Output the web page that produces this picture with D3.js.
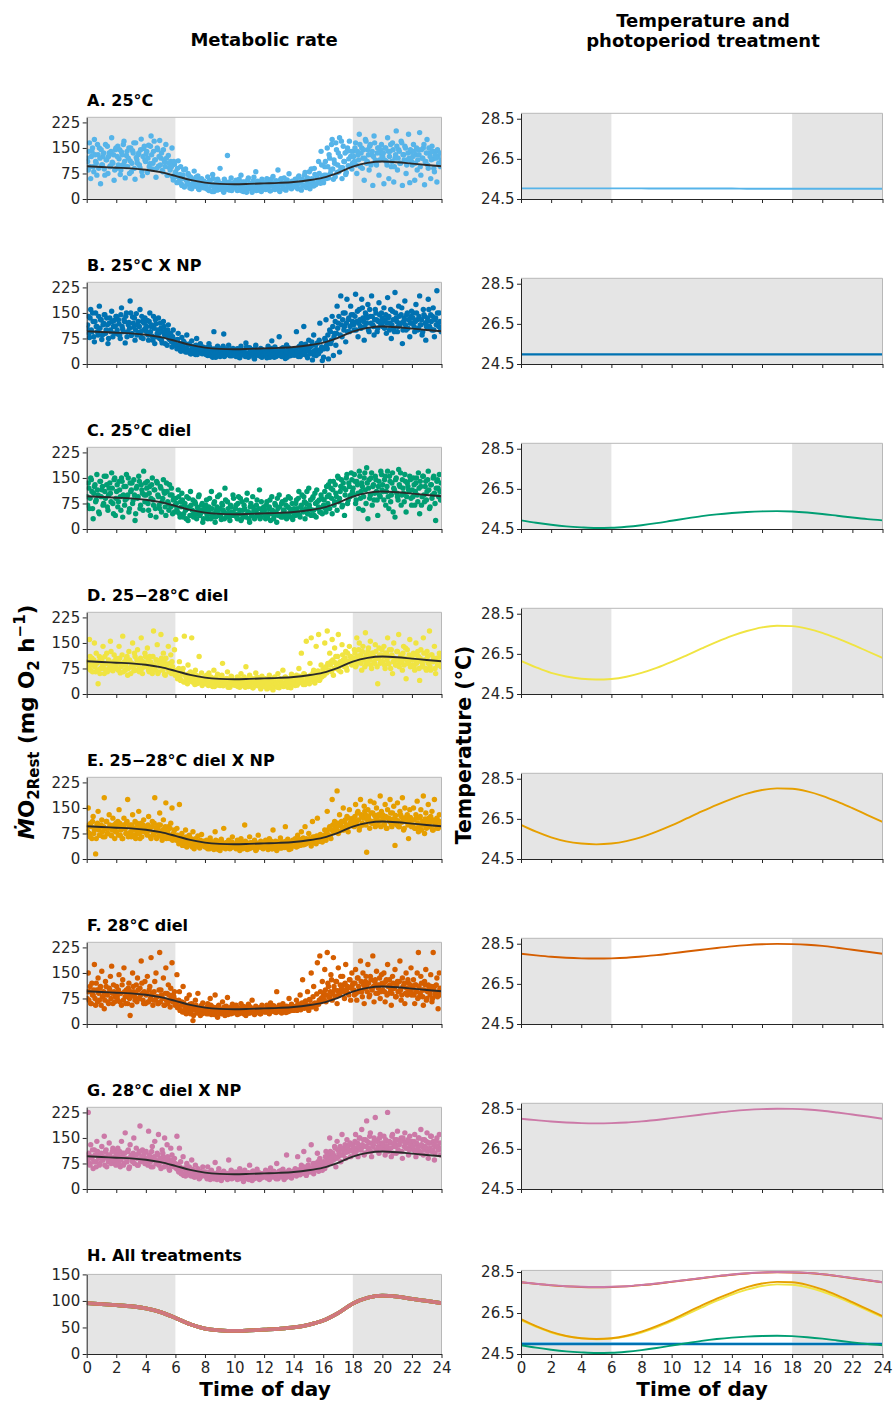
<!DOCTYPE html>
<html><head><meta charset="utf-8">
<script src="https://cdn.jsdelivr.net/npm/d3@7"></script>
<style>
body{margin:0;background:#fff}
svg{display:block}
text{font-family:"DejaVu Sans",sans-serif}
</style>
</head><body>
<svg id="chart" width="895" height="1405"></svg>
<script>
// ---------- DATA ----------
// Resting metabolic rate readings (mg O2 h^-1); two fish per treatment, one reading each every 5 min over 0-24 h
const mo2_A = [
120,85,165,60,140,95,175,110,70,130,150,45,100,125,88,160,115,75,135,98,180,105,55,145,
90,155,118,72,138,100,170,62,128,95,150,112,80,142,165,58,122,105,135,92,176,68,148,115,
132,78,158,104,185,88,140,115,64,150,96,172,120,84,145,108,160,70,128,92,110,150,56,102,
80,48,112,62,95,40,70,35,88,55,75,42,65,30,58,82,38,50,68,28,45,60,35,52,
42,30,65,25,50,38,72,22,45,33,58,28,90,40,35,20,52,30,128,44,26,62,36,48,
38,55,25,46,30,70,34,22,50,40,28,62,36,45,20,54,32,80,42,26,48,35,58,30,
44,28,60,35,52,24,40,66,30,48,38,85,26,55,42,32,62,28,46,36,74,40,30,50,
36,58,42,30,68,48,26,55,40,78,34,62,45,30,88,52,38,72,44,60,110,50,140,66,
48,95,70,150,62,120,85,175,58,105,165,78,135,180,92,60,155,110,72,140,98,170,125,88,
140,110,165,75,130,190,95,150,120,55,175,105,145,85,160,130,40,185,115,100,150,70,135,160,
125,45,150,110,180,60,140,95,165,50,120,200,85,145,105,170,40,130,155,75,115,190,48,138,
100,160,55,130,85,145,195,70,120,150,42,110,175,90,135,60,155,118,80,140,50,125,100,95];
const mo2_A2 = [
110,140,95,125,150,80,130,105,160,90,120,145,100,135,70,115,155,125,95,140,108,130,85,150,
125,100,145,85,130,160,110,95,140,120,75,150,105,135,90,165,115,130,100,145,80,125,155,110,
140,120,95,155,130,105,170,115,90,145,125,100,135,80,115,95,120,70,105,85,95,65,110,75,
65,90,50,72,45,60,85,38,55,48,70,32,60,45,52,38,64,42,30,55,40,48,33,44,
35,48,28,55,40,22,60,32,44,26,52,38,30,46,24,58,34,42,28,50,36,25,45,38,
32,44,26,58,38,24,50,34,42,20,56,30,46,36,28,64,40,25,52,34,44,22,48,36,
36,50,30,44,24,58,38,46,28,54,34,42,22,60,40,30,48,26,56,36,44,32,52,38,
42,56,34,64,46,30,58,40,70,36,52,44,80,38,60,48,90,42,66,54,75,46,100,58,
70,110,60,95,130,75,160,88,115,65,145,100,80,125,170,92,110,135,78,150,118,95,140,105,
125,150,100,140,115,160,135,90,145,120,170,110,130,155,100,140,125,165,105,135,150,115,145,125,
135,115,150,100,140,125,160,110,145,95,130,155,120,140,105,165,130,115,150,100,135,120,145,110,
125,140,105,150,115,130,95,145,120,160,110,135,100,150,125,115,140,90,130,120,145,105,135,115];
const mo2_B = [
105,140,78,160,95,125,65,150,110,85,170,130,72,115,145,90,135,60,120,100,155,80,128,112,
140,88,118,75,165,102,130,62,150,95,122,185,84,138,108,70,148,115,92,160,78,125,100,135,
96,128,70,150,110,82,140,60,118,90,135,75,105,62,125,85,98,55,115,72,88,50,100,65,
70,45,90,55,38,78,48,62,35,85,42,58,30,68,40,52,28,75,45,36,60,32,50,40,
35,48,25,60,30,42,20,95,38,28,52,32,22,45,36,88,26,40,30,55,24,42,34,28,
30,22,45,35,18,52,28,40,25,62,32,20,48,36,26,42,15,55,30,38,24,46,20,34,
28,40,18,52,32,24,68,36,20,44,30,26,80,38,22,48,34,16,56,28,42,24,36,30,
40,26,95,32,50,22,60,36,110,28,45,18,70,34,52,12,85,40,25,62,30,120,44,10,
20,75,130,45,15,100,60,140,25,90,55,170,120,35,200,80,150,110,65,190,130,95,170,115,
145,100,205,125,80,160,110,190,135,70,150,120,175,95,140,200,115,85,160,130,105,180,125,150,
110,165,130,90,195,140,120,75,155,105,210,135,95,170,115,145,60,125,185,100,150,130,80,140,
120,150,95,175,130,105,200,115,85,160,140,70,125,190,110,145,100,165,80,135,215,120,150,105];
const mo2_B2 = [
115,90,135,100,150,80,125,110,95,140,105,130,85,120,145,100,115,75,135,95,125,110,90,140,
100,130,85,145,110,95,125,140,80,115,105,150,90,120,135,100,85,125,110,95,140,75,120,105,
110,85,125,95,115,70,105,130,80,100,90,120,70,95,110,60,85,100,75,90,65,80,55,70,
55,72,45,60,38,52,66,42,48,35,58,40,30,50,44,36,55,28,46,38,42,30,48,34,
28,40,32,50,24,36,44,30,20,48,34,26,40,30,52,22,36,44,28,34,40,24,46,32,
26,38,30,20,44,34,28,40,22,50,32,24,36,42,28,18,46,34,26,38,30,22,42,28,
34,24,42,30,20,46,36,28,50,22,38,32,26,44,30,40,24,36,20,48,32,28,40,26,
30,44,36,22,52,38,28,46,34,58,24,40,48,30,65,36,26,55,42,32,70,38,50,45,
45,70,55,85,60,95,70,110,80,125,90,105,140,85,115,130,100,150,120,95,135,110,145,125,
115,140,100,155,120,130,105,165,125,110,145,135,100,160,120,140,110,130,150,95,125,145,115,135,
125,105,145,120,135,100,160,115,130,95,150,125,110,140,120,165,100,135,115,145,105,130,120,155,
135,110,125,150,100,140,115,130,95,145,120,110,135,160,105,125,140,100,130,115,150,110,125,95];
const mo2_C = [
95,135,60,150,110,30,125,80,160,100,45,140,115,70,155,90,130,55,120,105,165,75,145,40,
110,65,140,95,150,35,125,85,160,100,50,135,115,75,145,25,120,90,155,60,130,105,170,80,
100,140,55,125,90,150,70,115,35,135,95,60,120,80,145,105,40,110,75,130,65,100,85,50,
90,60,115,45,80,105,35,70,55,95,25,65,110,40,85,50,75,30,60,100,45,70,20,55,
50,85,30,65,45,110,35,75,20,55,95,40,60,28,70,50,120,35,80,45,25,65,40,90,
45,70,30,95,55,25,80,40,60,35,105,50,20,75,45,65,30,55,85,40,115,35,60,48,
55,30,80,45,65,25,95,50,38,70,20,60,100,42,75,35,55,85,30,65,45,90,52,28,
60,40,85,50,110,35,70,55,95,30,75,45,120,60,40,90,55,105,35,80,65,50,100,45,
70,110,50,95,130,60,120,45,140,80,105,55,150,90,125,65,135,40,115,160,85,125,100,145,
120,160,75,140,105,170,90,135,55,150,115,180,30,145,100,165,125,85,155,110,40,140,95,160,
130,85,155,110,170,60,140,100,165,120,35,150,95,175,125,70,145,105,160,50,135,115,155,90,
115,150,70,135,100,165,45,125,95,155,80,140,110,170,60,130,90,150,105,25,140,120,160,85];
const mo2_C2 = [
70,120,90,145,60,105,130,85,115,50,140,95,125,75,110,155,65,100,135,80,120,45,150,90,
130,80,115,55,140,100,70,125,90,150,60,110,135,85,100,45,125,95,140,70,115,55,100,135,
120,75,105,40,130,85,115,60,140,100,70,125,50,90,110,65,135,80,55,100,120,45,90,70,
75,50,95,35,65,85,45,75,30,60,90,40,70,55,35,80,45,65,95,40,55,75,30,60,
70,40,55,90,30,60,45,80,35,65,50,100,40,75,55,30,85,45,60,35,70,50,100,40,
60,35,75,45,90,30,55,70,40,85,50,30,65,40,95,55,35,70,45,60,30,80,50,65,
40,70,35,60,85,45,55,30,75,50,90,40,65,35,80,55,45,70,40,95,60,35,75,50,
45,75,60,90,40,65,100,50,80,60,110,45,70,85,55,95,40,75,115,60,85,50,90,65,
85,60,125,75,100,140,90,115,70,130,95,155,80,110,145,70,120,100,150,75,135,95,165,110,
100,140,85,130,60,155,110,125,95,165,75,135,120,90,150,70,130,105,145,85,125,100,170,115,
110,145,70,125,95,155,80,135,50,115,145,105,85,130,165,100,120,80,140,95,125,110,145,70,
95,130,110,150,80,120,140,70,155,100,125,85,145,115,65,130,100,155,75,120,145,95,110,135];
const mo2_D = [
80,95,160,70,105,85,150,65,90,30,110,75,100,140,60,88,120,72,95,155,82,68,115,92,
75,100,140,62,90,170,85,70,105,55,125,95,80,150,68,110,88,130,72,98,165,60,92,120,
85,135,70,110,90,60,185,78,100,145,65,95,175,82,120,58,105,88,140,72,115,95,65,130,
160,70,50,95,40,60,75,170,35,55,85,45,65,165,38,58,70,30,52,110,42,62,35,48,
40,55,28,62,35,48,22,70,45,30,58,38,25,50,90,32,44,28,65,36,20,52,40,30,
35,25,50,42,20,60,30,45,28,80,38,22,55,32,46,18,40,62,26,48,34,15,52,38,
28,45,15,38,55,22,30,12,48,35,25,60,18,42,30,70,24,50,36,20,44,28,58,32,
40,25,55,30,75,45,120,35,60,28,155,50,38,90,165,45,70,32,140,58,175,42,85,52,
60,150,80,185,70,120,95,160,55,135,110,75,175,90,65,145,100,80,125,70,95,140,110,85,
105,130,80,165,95,150,115,70,140,100,180,88,125,110,155,75,120,95,145,105,30,135,90,115,
95,140,75,120,165,88,110,130,60,150,100,85,125,175,92,115,70,140,105,45,130,95,160,110,
85,120,70,150,95,110,40,130,80,165,100,75,125,90,185,70,115,95,140,60,105,85,120,90];
const mo2_D2 = [
95,75,110,85,65,100,80,120,70,95,60,105,85,75,110,90,65,100,80,125,70,95,85,105,
90,70,105,80,115,65,95,85,110,75,100,60,90,80,120,70,100,85,65,105,75,95,80,110,
80,100,65,95,75,110,85,70,100,60,90,80,105,70,95,55,85,75,65,90,60,80,70,55,
60,45,75,50,40,65,35,55,48,30,60,42,50,35,45,28,55,40,32,48,38,25,45,35,
30,45,25,38,50,28,40,22,48,35,26,42,30,55,24,38,32,46,20,40,28,50,34,26,
28,40,22,46,32,25,38,50,20,35,44,26,30,42,18,36,28,48,24,34,40,20,30,45,
22,36,28,44,18,32,40,25,50,30,20,38,45,26,34,22,48,30,40,26,36,18,44,30,
30,46,26,38,52,34,44,28,58,36,48,40,30,55,42,62,35,50,45,68,40,58,50,72,
55,78,62,90,70,85,65,100,75,92,80,110,70,95,85,115,90,105,78,120,95,110,88,100,
95,120,85,110,130,100,90,125,105,80,115,95,135,100,85,120,110,90,125,80,105,115,95,130,
110,85,120,100,90,130,75,115,95,105,85,125,100,80,110,95,120,85,135,100,90,115,80,105,
100,80,115,90,125,75,105,95,85,120,100,70,110,90,80,115,95,105,75,100,85,95,110,80];
const mo2_E = [
90,150,75,105,60,125,85,15,100,140,70,95,115,65,180,88,110,75,130,92,68,120,100,80,
80,110,145,70,95,60,120,88,105,175,75,100,65,130,85,110,72,95,140,60,105,82,115,90,
95,70,125,85,60,110,75,180,92,65,100,135,80,55,115,88,165,70,95,60,105,150,75,85,
65,90,55,160,48,75,40,62,85,35,58,70,45,52,80,30,60,42,68,38,55,72,45,50,
40,55,30,48,62,35,45,28,80,42,52,35,25,58,40,90,32,48,38,55,30,45,65,36,
42,30,55,38,25,60,45,35,100,50,28,42,65,32,48,38,55,25,45,70,35,52,40,30,
35,55,42,28,60,48,30,85,40,52,25,45,38,62,32,50,42,95,35,58,28,48,40,55,
45,60,35,70,50,40,80,55,42,95,60,48,75,52,38,110,58,65,45,120,55,70,62,50,
65,85,55,140,70,95,60,175,80,110,90,200,75,130,100,85,150,110,95,125,80,145,105,115,
120,95,160,110,140,85,175,125,100,155,130,20,145,115,170,105,135,165,95,150,125,110,185,140,
130,105,160,90,145,120,175,100,135,155,40,115,165,95,140,125,180,85,150,110,130,60,145,100,
115,150,90,130,170,80,120,145,100,185,75,135,110,160,95,125,140,85,175,105,120,90,130,100];
const mo2_E2 = [
80,100,65,95,110,75,90,60,105,85,70,100,80,95,65,110,75,90,100,70,85,95,60,105,
95,70,105,85,60,100,90,75,110,65,95,80,100,70,90,60,105,85,75,95,65,100,80,90,
75,100,85,65,95,70,105,80,60,90,75,100,65,85,70,95,60,80,70,90,65,55,75,60,
55,70,45,62,50,40,58,48,65,38,52,44,60,35,50,42,55,38,48,32,45,40,52,36,
35,48,42,30,52,38,45,32,55,40,28,46,36,50,34,42,30,48,38,44,32,50,36,42,
45,36,50,32,42,48,30,40,52,36,44,30,48,38,42,34,50,28,40,46,36,42,32,48,
40,48,34,44,38,52,30,46,40,36,50,42,32,48,38,44,34,52,40,36,46,30,42,38,
40,52,45,38,58,48,42,62,50,44,55,48,60,52,46,65,55,50,68,58,52,72,60,65,
70,60,80,72,90,65,85,100,78,95,88,105,80,98,110,92,85,115,100,95,120,105,110,98,
110,125,100,135,115,95,130,105,120,140,100,115,125,90,135,110,105,128,118,100,130,112,95,125,
115,100,125,90,120,110,135,95,118,105,128,100,112,95,130,108,120,90,115,125,100,110,122,95,
100,115,90,120,105,95,125,85,110,100,118,90,105,120,95,110,85,115,100,108,90,112,95,105];
const mo2_F = [
75,150,95,60,120,85,175,55,100,135,70,110,155,80,45,125,90,65,105,140,170,60,95,80,
110,70,145,90,55,130,165,80,100,60,120,25,85,150,95,70,115,135,75,105,185,90,60,125,
85,140,65,110,195,90,70,125,150,80,60,210,100,75,135,55,165,90,115,70,105,180,85,95,
70,145,50,95,40,65,110,35,55,75,45,85,30,60,10,50,70,38,90,45,25,55,62,40,
45,30,60,38,75,28,50,42,85,35,20,55,40,30,65,45,25,52,78,35,48,30,58,42,
38,55,28,45,35,60,42,30,50,25,40,58,32,45,70,38,28,52,40,35,48,30,55,42,
42,35,55,48,30,62,40,50,36,45,95,38,55,44,32,60,48,40,52,36,75,45,58,40,
50,42,70,55,45,85,60,130,48,65,55,95,40,70,150,52,110,62,45,180,58,200,75,125,
90,160,65,210,110,80,145,70,195,100,125,60,165,85,140,95,115,75,175,105,90,130,70,150,
120,85,160,70,135,100,185,95,150,60,125,110,175,80,140,105,200,65,130,155,90,115,75,145,
100,150,65,130,175,90,115,55,140,105,160,80,125,95,185,70,135,110,60,150,85,120,100,165,
90,130,60,115,150,210,80,140,100,55,125,160,75,115,95,145,65,210,110,85,135,45,150,90];
const mo2_F2 = [
95,70,110,60,85,100,75,120,65,90,105,55,80,95,70,110,85,60,100,75,90,115,65,85,
80,100,65,90,115,70,95,60,85,105,75,95,55,110,80,90,65,100,75,85,120,70,95,60,
90,65,100,75,85,55,95,70,80,60,100,65,85,75,55,90,70,60,85,50,75,65,80,55,
60,48,70,40,55,35,62,45,30,52,40,58,35,48,25,42,55,32,45,38,50,30,42,35,
38,50,30,45,55,35,42,28,48,36,52,32,44,38,30,50,36,42,28,46,34,40,32,48,
42,34,48,30,44,38,52,36,28,46,40,32,50,36,44,30,42,48,34,38,30,46,40,36,
36,46,40,32,50,44,38,54,42,34,48,40,36,52,44,38,46,34,42,50,38,44,48,40,
44,52,40,58,48,42,62,50,46,68,54,48,72,56,50,80,60,54,88,62,70,95,66,80,
72,100,85,120,78,95,130,88,110,82,125,98,90,115,105,140,95,120,100,110,85,130,105,115,
100,120,90,135,110,95,125,80,115,105,140,95,120,85,130,100,110,125,90,115,105,135,95,120,
115,95,125,85,110,130,100,90,120,105,80,115,95,125,100,85,110,120,90,105,130,95,115,85,
105,85,115,95,75,110,90,120,80,100,115,70,95,105,85,110,75,100,90,115,80,95,105,85];
const mo2_G = [
100,225,75,130,90,60,115,80,140,105,70,95,125,85,155,110,65,100,135,80,90,120,75,110,
85,120,95,65,140,105,75,165,90,110,60,130,100,80,150,95,120,70,105,185,88,115,95,75,
110,80,170,95,65,125,90,140,75,105,160,85,60,115,95,150,70,130,88,55,120,100,80,90,
70,155,55,120,80,45,95,60,38,75,50,65,42,85,55,35,70,48,60,30,52,45,65,40,
50,35,65,42,28,55,40,30,78,45,32,60,38,25,48,52,35,42,28,85,40,55,32,45,
38,50,28,45,60,35,42,22,55,40,30,48,70,36,25,52,44,32,58,38,28,46,40,35,
40,55,32,48,28,62,45,35,50,40,75,30,52,44,36,58,28,42,100,38,55,46,32,48,
45,60,38,95,52,42,70,48,110,55,40,65,85,50,130,58,45,75,60,105,52,90,68,55,
80,60,110,70,95,150,75,105,85,125,65,140,95,115,80,160,100,120,90,145,110,130,95,115,
130,105,160,120,95,150,115,175,125,100,145,200,110,135,165,95,125,150,210,115,140,105,160,130,
120,155,100,140,225,115,135,95,160,125,145,105,170,130,110,150,90,140,165,120,135,100,155,125,
140,115,160,95,130,150,110,175,125,100,145,120,165,90,135,155,110,140,85,125,150,115,160,100];
const mo2_G2 = [
85,105,70,95,115,80,100,65,110,90,75,105,85,95,70,115,90,80,100,75,110,85,95,70,
100,75,110,85,95,70,105,90,80,115,65,95,85,105,75,100,90,70,110,80,95,85,105,75,
90,70,100,80,110,65,95,85,75,100,70,90,80,105,65,85,75,95,60,80,70,85,65,75,
60,72,50,65,45,58,40,62,48,55,42,50,38,58,45,35,52,40,48,32,45,38,50,42,
42,30,48,36,52,40,32,46,38,28,50,34,44,30,40,48,36,32,46,38,42,30,50,36,
34,46,40,30,50,36,44,32,48,38,42,28,46,36,52,30,40,44,34,48,38,32,42,46,
44,36,50,40,34,48,38,52,42,30,46,40,36,54,44,38,48,34,50,42,36,46,40,52,
48,42,56,50,44,60,52,46,65,54,48,70,58,52,62,75,56,68,60,80,66,72,78,70,
75,95,82,100,88,110,92,105,98,120,90,115,105,125,100,118,110,130,108,122,115,135,112,128,
120,140,110,135,125,150,115,130,145,105,125,140,120,155,110,135,130,145,115,140,125,150,120,135,
130,115,145,125,110,140,120,155,105,135,125,145,115,130,140,110,150,125,135,120,145,115,130,140,
125,140,110,135,120,150,105,130,145,115,125,140,110,135,120,155,115,130,105,140,125,115,135,120];

// Fitted (smoothed) metabolic rate, hourly
const fitHours = [0,1,2,3,4,5,6,7,8,9,10,11,12,13,14,15,16,17,18,19,20,21,22,23,24];
const fitMO2 = [96,94,92,90,86,79,68,56,48,44.5,43.5,44.5,46,47.5,50,55,63,77,95,106,110,108,104,100,96];

// Water temperature treatments (°C), hourly
const temp_A = [25.03,25.03,25.03,25.03,25.03,25.03,25.03,25.03,25.03,25.02,25.02,25.02,25.02,25.02,25.02,25.01,25.01,25.01,25.01,25.01,25.01,25.01,25.01,25.01,25.01];
const temp_B = [24.98,24.98,24.98,24.98,24.98,24.98,24.98,24.98,24.98,24.98,24.98,24.98,24.98,24.98,24.98,24.98,24.98,24.98,24.98,24.98,24.98,24.98,24.98,24.98,24.98];
const temp_C = [24.93,24.81,24.71,24.63,24.58,24.55,24.56,24.61,24.69,24.79,24.91,25.03,25.14,25.23,25.3,25.35,25.38,25.39,25.37,25.32,25.25,25.16,25.07,24.99,24.93];
const temp_D = [26.15,25.83,25.55,25.37,25.26,25.22,25.25,25.36,25.55,25.8,26.1,26.43,26.77,27.1,27.4,27.64,27.82,27.9,27.88,27.76,27.55,27.27,26.96,26.63,26.3];
const temp_E = [26.2,25.86,25.58,25.38,25.27,25.23,25.27,25.39,25.59,25.86,26.17,26.52,26.87,27.2,27.5,27.76,27.94,28.02,28.0,27.87,27.65,27.36,27.03,26.69,26.35];
const temp_F = [28.0,27.92,27.85,27.8,27.77,27.76,27.77,27.8,27.86,27.93,28.02,28.11,28.2,28.29,28.37,28.43,28.47,28.49,28.48,28.45,28.39,28.3,28.2,28.1,28.0];
const temp_G = [28.0,27.93,27.86,27.81,27.78,27.77,27.78,27.81,27.87,27.94,28.03,28.12,28.21,28.3,28.38,28.44,28.48,28.5,28.49,28.46,28.4,28.31,28.21,28.11,28.0];

const panelTitles = ["A. 25°C","B. 25°C X NP","C. 25°C diel","D. 25−28°C diel","E. 25−28°C diel X NP","F. 28°C diel","G. 28°C diel X NP","H. All treatments"];
const treatmentColors = ["#56B4E9","#0072B2","#009E73","#F0E442","#E69F00","#D55E00","#CC79A7"];
const photoperiod = [true,false,true,true,false,true,false,true]; // false = no photoperiod (NP)
const lightsOn = 6, lightsOff = 18;
const mo2Ticks = [0,75,150,225];
const mo2TicksAll = [0,50,100,150];
const tempTicks = [24.5,26.5,28.5];
const hourTicks = [0,2,4,6,8,10,12,14,16,18,20,22,24];
const fishOffsetMin = [0, 2.5]; // minutes after each 5-min slot at which each fish was read

const mo2Series = [[mo2_A,mo2_A2],[mo2_B,mo2_B2],[mo2_C,mo2_C2],[mo2_D,mo2_D2],[mo2_E,mo2_E2],[mo2_F,mo2_F2],[mo2_G,mo2_G2]];
const tempSeries = [temp_A,temp_B,temp_C,temp_D,temp_E,temp_F,temp_G];

// ---------- DRAW ----------
const svg = d3.select("#chart");
const GRAY = "#e5e5e5";
const leftX = d3.scaleLinear().domain([0,24]).range([86.7,441.5]);
const rightX = d3.scaleLinear().domain([0,24]).range([521,882.5]);

svg.append("text").attr("x",264).attr("y",45.5).attr("text-anchor","middle")
  .attr("font-size",18).attr("font-weight","bold").text("Metabolic rate");
svg.append("text").attr("x",703).attr("y",26.7).attr("text-anchor","middle")
  .attr("font-size",18).attr("font-weight","bold").text("Temperature and");
svg.append("text").attr("x",703).attr("y",46.7).attr("text-anchor","middle")
  .attr("font-size",18).attr("font-weight","bold").text("photoperiod treatment");

function background(g, x, y, light){
  const [y0,y1] = y.range();
  const top = Math.min(y0,y1), h = Math.abs(y0-y1);
  if(light){
    g.append("rect").attr("x",x(0)).attr("y",top).attr("width",x(lightsOn)-x(0)).attr("height",h).attr("fill",GRAY);
    g.append("rect").attr("x",x(lightsOff)).attr("y",top).attr("width",x(24)-x(lightsOff)).attr("height",h).attr("fill",GRAY);
  } else {
    g.append("rect").attr("x",x(0)).attr("y",top).attr("width",x(24)-x(0)).attr("height",h).attr("fill",GRAY);
  }
}
function frame(g, x, y){
  const [y0,y1] = y.range();
  g.append("path").attr("d",`M${x(0)},${y1}H${x(24)}V${y0}`).attr("fill","none").attr("stroke","#b8b8b8").attr("stroke-width",1);
}
function axes(g, x, y, yTicks, yFmt, showX){
  const ya = g.append("g").attr("transform",`translate(${x(0)},0)`)
    .call(d3.axisLeft(y).tickValues(yTicks).tickFormat(yFmt).tickSize(4).tickSizeOuter(0).tickPadding(2.5));
  const [y0] = y.range();
  const xa = g.append("g").attr("transform",`translate(0,${y0})`)
    .call(d3.axisBottom(x).tickValues(hourTicks).tickFormat(showX? d3.format("d") : "").tickSize(4).tickSizeOuter(0).tickPadding(4.5));
  [ya,xa].forEach(a=>{
    a.selectAll("text").attr("font-size",15).attr("fill","#262626").attr("font-family","DejaVu Sans, sans-serif");
    a.selectAll("line").attr("stroke","#262626");
    a.select(".domain").attr("stroke","#262626");
  });
}

const lineGen = (x,y)=> d3.line().x((d,i)=>x(fitHours[i])).y(d=>y(d)).curve(d3.curveMonotoneX);

for(let i=0;i<8;i++){
  const bottom = 199 + 165*i;
  const isAll = i===7;
  const yL = d3.scaleLinear().domain(isAll?[0,150]:[0,240]).range([bottom, bottom-(isAll?79.6:81.7)]);
  const yR = d3.scaleLinear().domain(isAll?[24.5,28.58]:[24.5,28.77]).range([bottom, bottom-(isAll?83.6:85.7)]);

  svg.append("text").attr("x",87).attr("y",bottom-81.7-11).attr("font-size",16).attr("font-weight","bold").text(panelTitles[i]);

  // ---- left: metabolic rate ----
  const gl = svg.append("g");
  background(gl, leftX, yL, photoperiod[i]);
  const clipId = "clipL"+i;
  svg.append("clipPath").attr("id",clipId).append("rect")
    .attr("x",leftX(0)).attr("y",yL.range()[1]).attr("width",leftX(24)-leftX(0)).attr("height",yL.range()[0]-yL.range()[1]);
  const plot = gl.append("g").attr("clip-path",`url(#${clipId})`);
  if(!isAll){
    mo2Series[i].forEach((vals,f)=>{
      const slot = 24/vals.length;
      plot.append("g").selectAll("circle").data(vals).join("circle")
        .attr("cx",(d,k)=>leftX(k*slot + slot*fishOffsetMin[f]/5 + slot/4))
        .attr("cy",d=>yL(d)).attr("r",2.7).attr("fill",treatmentColors[i]);
    });
    plot.append("path").datum(fitMO2).attr("d",lineGen(leftX,yL)).attr("fill","none").attr("stroke","#2a2a2a").attr("stroke-width",1.9);
  } else {
    treatmentColors.forEach(c=>{
      plot.append("path").datum(fitMO2).attr("d",lineGen(leftX,yL)).attr("fill","none").attr("stroke",c).attr("stroke-width",3.8).attr("stroke-opacity",0.75);
    });
  }
  frame(gl, leftX, yL);
  axes(gl, leftX, yL, isAll?mo2TicksAll:mo2Ticks, d3.format("d"), isAll);

  // ---- right: temperature ----
  const gr = svg.append("g");
  background(gr, rightX, yR, photoperiod[i]);
  const clipR = "clipR"+i;
  svg.append("clipPath").attr("id",clipR).append("rect")
    .attr("x",rightX(0)).attr("y",yR.range()[1]-2).attr("width",rightX(24)-rightX(0)).attr("height",yR.range()[0]-yR.range()[1]+2);
  const pr = gr.append("g").attr("clip-path",`url(#${clipR})`);
  const series = isAll ? [0,1,2,3,4,5,6] : [i];
  series.forEach(s=>{
    pr.append("path").datum(tempSeries[s]).attr("d",lineGen(rightX,yR)).attr("fill","none")
      .attr("stroke",treatmentColors[s]).attr("stroke-width", s===1?2.4:1.9);
  });
  frame(gr, rightX, yR);
  axes(gr, rightX, yR, tempTicks, d3.format(".1f"), isAll);
}

svg.append("text").attr("x",265).attr("y",1396).attr("text-anchor","middle").attr("font-size",20).attr("font-weight","bold").text("Time of day");
svg.append("text").attr("x",702).attr("y",1396).attr("text-anchor","middle").attr("font-size",20).attr("font-weight","bold").text("Time of day");

const yt = svg.append("text").attr("transform","translate(34,722) rotate(-90)").attr("text-anchor","middle")
  .attr("font-size",21.5).attr("font-weight","bold");
yt.append("tspan").attr("font-style","italic").text("Ṁ");
yt.append("tspan").text("O");
yt.append("tspan").attr("font-size",15).attr("dy",5).text("2Rest");
yt.append("tspan").attr("dy",-5).text(" (mg O");
yt.append("tspan").attr("font-size",15).attr("dy",5).text("2");
yt.append("tspan").attr("dy",-5).text(" h");
yt.append("tspan").attr("font-size",15).attr("dy",-9).text("−1");
yt.append("tspan").attr("dy",9).text(")");

svg.append("text").attr("transform","translate(471,745) rotate(-90)").attr("text-anchor","middle")
  .attr("font-size",20.5).attr("font-weight","bold").text("Temperature (°C)");
</script>
</body></html>
